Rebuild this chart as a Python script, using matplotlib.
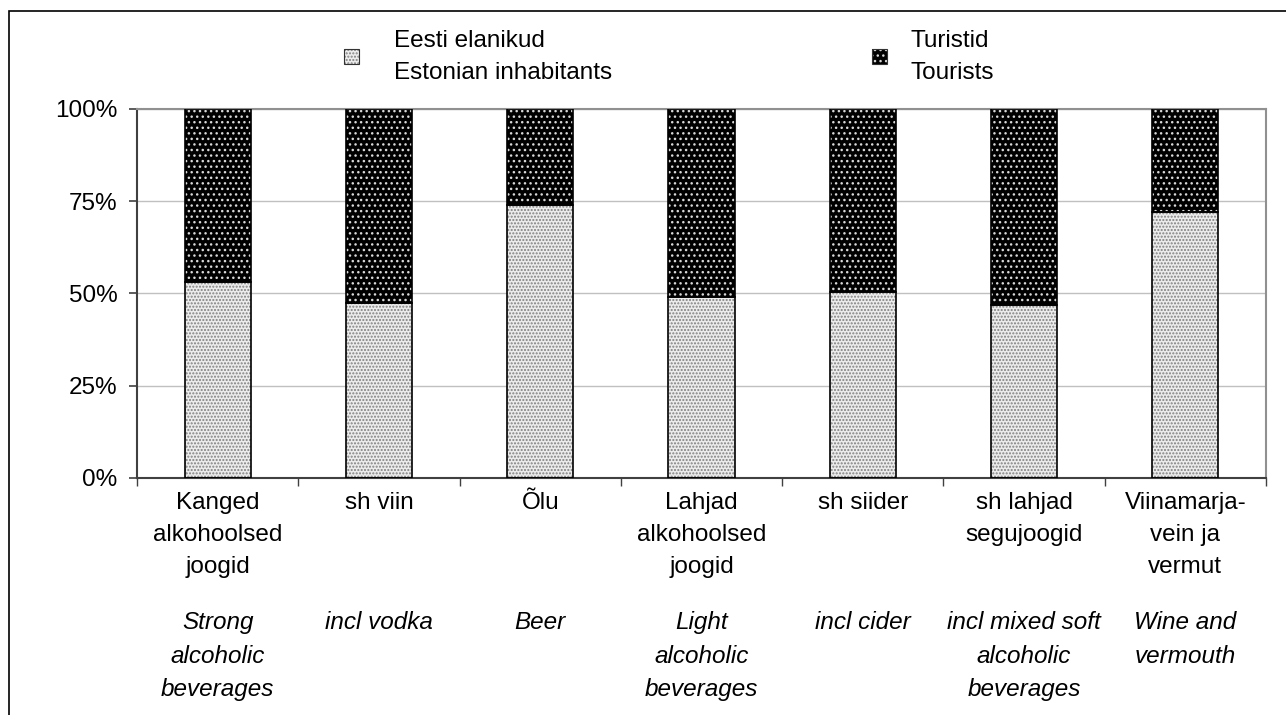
import matplotlib.pyplot as plt
from matplotlib.patches import Rectangle

plt.rcParams['font.family'] = ['Liberation Sans', 'DejaVu Sans']
plt.rcParams['hatch.linewidth'] = 1.0

# Osakaal, %
cat_et = ["Kanged\nalkohoolsed\njoogid", "sh viin", "Õlu", "Lahjad\nalkohoolsed\njoogid",
          "sh siider", "sh lahjad\nsegujoogid", "Viinamarja-\nvein ja\nvermut"]
cat_en = ["Strong\nalcoholic\nbeverages", "incl vodka", "Beer", "Light\nalcoholic\nbeverages",
          "incl cider", "incl mixed soft\nalcoholic\nbeverages", "Wine and\nvermouth"]
elanikud = [53, 47.5, 74, 49, 50.5, 47, 72]
turistid = [100 - v for v in elanikud]
leg_labels = ["Eesti elanikud\nEstonian inhabitants", "Turistid\nTourists"]

FS = 17.5
LS = 1.58
x = list(range(len(cat_et)))
w = 0.41

fig = plt.figure(figsize=(12.86, 7.15), dpi=100)
ax = fig.add_axes([0.1065, 0.3315, 0.878, 0.5161])

# hatch layer, then outline
ax.bar(x, elanikud, w, color='#ececec', edgecolor='#808080', hatch='.....', linewidth=0, zorder=2)
ax.bar(x, turistid, w, bottom=elanikud, color='black', edgecolor='#d8d8d8', hatch='...', linewidth=0, zorder=2)
ax.bar(x, elanikud, w, fill=False, edgecolor='black', linewidth=1.2, zorder=3)
ax.bar(x, turistid, w, bottom=elanikud, fill=False, edgecolor='black', linewidth=1.2, zorder=3)

ax.set_xlim(-0.5, len(x) - 0.5)
ax.set_ylim(0, 100)
ax.set_yticks([0, 25, 50, 75, 100])
ax.set_yticklabels(['0%', '25%', '50%', '75%', '100%'], fontsize=FS)
ax.yaxis.grid(True, color='#c0c0c0', linewidth=1)
ax.set_axisbelow(True)
ax.set_xticks([i - 0.5 for i in range(len(x) + 1)])
ax.set_xticklabels([])
ax.tick_params(axis='y', length=6, width=1.2, color='#404040', pad=8)
ax.tick_params(axis='x', length=6, width=1, color='#404040')
for s in ['left', 'bottom']:
    ax.spines[s].set_color('#404040')
    ax.spines[s].set_linewidth(1.5)
for s in ['top', 'right']:
    ax.spines[s].set_color('#909090')
    ax.spines[s].set_linewidth(1.5)

for i in x:
    ax.annotate(cat_et[i], xy=(i, 0), xycoords='data', xytext=(0, -10), textcoords='offset points',
                ha='center', va='top', fontsize=FS, linespacing=LS, annotation_clip=False)
    ax.annotate(cat_en[i], xy=(i, 0), xycoords='data', xytext=(0, -96), textcoords='offset points',
                ha='center', va='top', fontsize=FS, style='italic', linespacing=LS, annotation_clip=False)

# legend
sq_x = [344 / 1286, 872 / 1286]
tx_x = [394 / 1286, 911 / 1286]
styles = [dict(facecolor='#ececec', edgecolor='#808080', hatch='.....'),
          dict(facecolor='black', edgecolor='#d8d8d8', hatch='...')]
for k in range(2):
    fig.add_artist(Rectangle((sq_x[k], 1 - 64 / 715), 15 / 1286, 15 / 715, transform=fig.transFigure,
                             linewidth=0, **styles[k]))
    fig.add_artist(Rectangle((sq_x[k], 1 - 64 / 715), 15 / 1286, 15 / 715, transform=fig.transFigure,
                             fill=False, edgecolor='#333333', linewidth=0.8))
    fig.text(tx_x[k], 1 - 57 / 715, leg_labels[k], fontsize=FS, va='center', ha='left', linespacing=LS)

# outer frame
fig.add_artist(Rectangle((9 / 1286, -0.1), 1.2, 1 - 11 / 715 + 0.1, transform=fig.transFigure,
                         fill=False, edgecolor='black', linewidth=1.2))

fig.savefig('out.png', dpi=100)
